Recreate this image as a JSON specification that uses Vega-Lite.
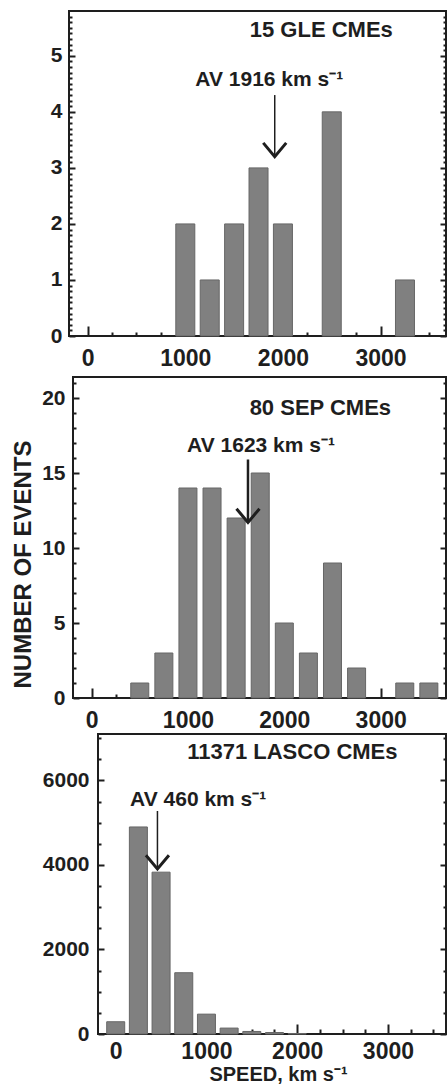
{
  "$schema": "https://vega.github.io/schema/vega-lite/v6.json",
  "background": "white",
  "padding": {"left": 0, "top": 10, "right": 0, "bottom": 0},
  "bounds": "full",
  "spacing": 0,
  "config": {
    "view": {"stroke": "#1e1e1e", "strokeWidth": 2},
    "axis": {"labelFont": "Liberation Sans", "labelFontWeight": "bold", "labelColor": "#1e1e1e", "tickColor": "#1e1e1e", "tickWidth": 2, "domain": false, "grid": false, "titleFont": "Liberation Sans", "titleFontWeight": "bold", "titleColor": "#1e1e1e", "labelOverlap": false, "labelFlush": false, "labelBound": false},
    "text": {"font": "Liberation Sans", "fontWeight": "bold", "color": "#1e1e1e"}
  },
  "vconcat": [
    {"spacing": 0, "hconcat": [
    {"width": 10, "height": 10, "view": {"stroke": null}, "data": {"values": []}, "mark": "point"},
    {
      "width": 377, "height": 325,
      "resolve": {"axis": {"x": "independent", "y": "independent"}},
      "layer": [
        {
          "data": {"values": [
            {"speed": 1000, "count": 2}, {"speed": 1250, "count": 1}, {"speed": 1500, "count": 2},
            {"speed": 1750, "count": 3}, {"speed": 2000, "count": 2}, {"speed": 2500, "count": 4},
            {"speed": 3250, "count": 1}
          ]},
          "mark": {"type": "bar", "size": 19, "fill": "#808080", "stroke": "#666666", "strokeWidth": 1},
          "encoding": {
            "x": {"field": "speed", "type": "quantitative", "scale": {"domain": [-140, 3619], "nice": false, "zero": false},
                  "axis": {"orient": "bottom", "values": [0, 1000, 2000, 3000], "format": "d", "title": null, "tickSize": -10, "labelPadding": 21, "labelFontSize": 23, "minExtent": 39, "maxExtent": 39}},
            "y": {"field": "count", "type": "quantitative", "scale": {"domain": [0, 5.8], "nice": false},
                  "axis": {"orient": "left", "values": [0, 1, 2, 3, 4, 5], "format": "d", "title": null, "tickSize": -6, "labelPadding": 13, "labelFontSize": 21, "minExtent": 58, "maxExtent": 58}}
          }
        },
        {
          "data": {"values": [{"label": "15 GLE CMEs"}]},
          "mark": {"type": "text", "fontSize": 22, "align": "center", "baseline": "alphabetic"},
          "encoding": {
            "text": {"field": "label"},
            "x": {"datum": 2393, "type": "quantitative", "scale": {"domain": [-140, 3619], "nice": false, "zero": false},
                  "axis": {"orient": "bottom", "values": [250, 500, 750, 1250, 1500, 1750, 2250, 2500, 2750, 3250, 3500], "labels": false, "title": null, "tickSize": -4, "minExtent": 0, "maxExtent": 0}},
            "y": {"datum": 5.34, "type": "quantitative", "scale": {"domain": [0, 5.8], "nice": false},
                  "axis": {"orient": "left", "values": [0.1,0.2,0.3,0.4,0.5,0.6,0.7,0.8,0.9,1.1,1.2,1.3,1.4,1.5,1.6,1.7,1.8,1.9,2.1,2.2,2.3,2.4,2.5,2.6,2.7,2.8,2.9,3.1,3.2,3.3,3.4,3.5,3.6,3.7,3.8,3.9,4.1,4.2,4.3,4.4,4.5,4.6,4.7,4.8,4.9,5.1,5.2,5.3,5.4,5.5,5.6,5.7], "labels": false, "title": null, "tickSize": -3, "minExtent": 0, "maxExtent": 0}}
          }
        },
        {
          "data": {"values": [{"label": "AV 1916 km s⁻¹"}]},
          "mark": {"type": "text", "fontSize": 21, "align": "center", "baseline": "alphabetic"},
          "encoding": {
            "text": {"field": "label"},
            "x": {"datum": 1860, "type": "quantitative", "scale": {"domain": [-140, 3619], "nice": false, "zero": false}, "axis": null},
            "y": {"datum": 4.46, "type": "quantitative", "scale": {"domain": [0, 5.8], "nice": false},
                  "axis": {"orient": "right", "values": [0, 1, 2, 3, 4, 5], "labels": false, "title": null, "tickSize": -6, "minExtent": 0, "maxExtent": 0}}
          }
        },
        {
          "data": {"values": [{"avg": 1916}]},
          "mark": {"type": "rule", "strokeWidth": 1.5, "color": "#1e1e1e"},
          "encoding": {
            "x": {"field": "avg", "type": "quantitative", "scale": {"domain": [-140, 3619], "nice": false, "zero": false}, "axis": null},
            "y": {"datum": 4.3, "type": "quantitative", "scale": {"domain": [0, 5.8], "nice": false},
                  "axis": {"orient": "right", "values": [0.1,0.2,0.3,0.4,0.5,0.6,0.7,0.8,0.9,1.1,1.2,1.3,1.4,1.5,1.6,1.7,1.8,1.9,2.1,2.2,2.3,2.4,2.5,2.6,2.7,2.8,2.9,3.1,3.2,3.3,3.4,3.5,3.6,3.7,3.8,3.9,4.1,4.2,4.3,4.4,4.5,4.6,4.7,4.8,4.9,5.1,5.2,5.3,5.4,5.5,5.6,5.7], "labels": false, "title": null, "tickSize": -3, "minExtent": 0, "maxExtent": 0}},
            "y2": {"datum": 3.2}
          }
        },
        {
          "data": {"values": [{"avg": 1916}]},
          "mark": {"type": "point", "shape": "M-1,-1.2L0,0L1,-1.2", "filled": false, "size": 529, "strokeWidth": 3, "color": "#1e1e1e", "opacity": 1},
          "encoding": {
            "x": {"field": "avg", "type": "quantitative", "scale": {"domain": [-140, 3619], "nice": false, "zero": false}, "axis": null},
            "y": {"datum": 3.2, "type": "quantitative", "scale": {"domain": [0, 5.8], "nice": false}, "axis": null}
          }
        }
      ]
    }]},
    {"spacing": 0, "hconcat": [
    {"width": 10, "height": 10, "view": {"stroke": null}, "data": {"values": []}, "mark": "point"},
    {
      "width": 373, "height": 321,
      "resolve": {"axis": {"x": "independent", "y": "independent"}},
      "layer": [
        {
          "data": {"values": [
            {"speed": 500, "count": 1}, {"speed": 750, "count": 3}, {"speed": 1000, "count": 14},
            {"speed": 1250, "count": 14}, {"speed": 1500, "count": 12}, {"speed": 1750, "count": 15},
            {"speed": 2000, "count": 5}, {"speed": 2250, "count": 3}, {"speed": 2500, "count": 9},
            {"speed": 2750, "count": 2}, {"speed": 3250, "count": 1}, {"speed": 3500, "count": 1}
          ]},
          "mark": {"type": "bar", "size": 18, "fill": "#808080", "stroke": "#666666", "strokeWidth": 1},
          "encoding": {
            "x": {"field": "speed", "type": "quantitative", "scale": {"domain": [-141, 3626], "nice": false, "zero": false},
                  "axis": {"orient": "bottom", "values": [0, 1000, 2000, 3000], "format": "d", "title": null, "tickSize": -10, "labelPadding": 21, "labelFontSize": 23, "minExtent": 33, "maxExtent": 33}},
            "y": {"field": "count", "type": "quantitative", "scale": {"domain": [0, 21.4], "nice": false},
                  "axis": {"orient": "left", "values": [0, 5, 10, 15, 20], "format": "d", "title": "NUMBER OF EVENTS", "titleFontSize": 24, "titlePadding": 8, "titleY": 187, "tickSize": -6, "labelPadding": 14, "labelFontSize": 21, "minExtent": 30, "maxExtent": 30}}
          }
        },
        {
          "data": {"values": [{"label": "80 SEP CMEs"}]},
          "mark": {"type": "text", "fontSize": 22, "align": "center", "baseline": "alphabetic"},
          "encoding": {
            "text": {"field": "label"},
            "x": {"datum": 2374, "type": "quantitative", "scale": {"domain": [-141, 3626], "nice": false, "zero": false},
                  "axis": {"orient": "bottom", "values": [250, 500, 750, 1250, 1500, 1750, 2250, 2500, 2750, 3250, 3500], "labels": false, "title": null, "tickSize": -4, "minExtent": 0, "maxExtent": 0}},
            "y": {"datum": 18.9, "type": "quantitative", "scale": {"domain": [0, 21.4], "nice": false},
                  "axis": {"orient": "left", "values": [1,2,3,4,6,7,8,9,11,12,13,14,16,17,18,19,21], "labels": false, "title": null, "tickSize": -3, "minExtent": 0, "maxExtent": 0}}
          }
        },
        {
          "data": {"values": [{"label": "AV 1623 km s⁻¹"}]},
          "mark": {"type": "text", "fontSize": 21, "align": "center", "baseline": "alphabetic"},
          "encoding": {
            "text": {"field": "label"},
            "x": {"datum": 1758, "type": "quantitative", "scale": {"domain": [-141, 3626], "nice": false, "zero": false}, "axis": null},
            "y": {"datum": 16.4, "type": "quantitative", "scale": {"domain": [0, 21.4], "nice": false},
                  "axis": {"orient": "right", "values": [0, 5, 10, 15, 20], "labels": false, "title": null, "tickSize": -6, "minExtent": 0, "maxExtent": 0}}
          }
        },
        {
          "data": {"values": [{"avg": 1623}]},
          "mark": {"type": "rule", "strokeWidth": 2.5, "color": "#1e1e1e"},
          "encoding": {
            "x": {"field": "avg", "type": "quantitative", "scale": {"domain": [-141, 3626], "nice": false, "zero": false}, "axis": null},
            "y": {"datum": 15.9, "type": "quantitative", "scale": {"domain": [0, 21.4], "nice": false},
                  "axis": {"orient": "right", "values": [1,2,3,4,6,7,8,9,11,12,13,14,16,17,18,19,21], "labels": false, "title": null, "tickSize": -3, "minExtent": 0, "maxExtent": 0}},
            "y2": {"datum": 11.7}
          }
        },
        {
          "data": {"values": [{"avg": 1623}]},
          "mark": {"type": "point", "shape": "M-1,-1.2L0,0L1,-1.2", "filled": false, "size": 529, "strokeWidth": 3, "color": "#1e1e1e", "opacity": 1},
          "encoding": {
            "x": {"field": "avg", "type": "quantitative", "scale": {"domain": [-141, 3626], "nice": false, "zero": false}, "axis": null},
            "y": {"datum": 11.7, "type": "quantitative", "scale": {"domain": [0, 21.4], "nice": false}, "axis": null}
          }
        }
      ]
    }]},
    {"spacing": 0, "hconcat": [
    {"width": 10, "height": 10, "view": {"stroke": null}, "data": {"values": []}, "mark": "point"},
    {
      "width": 348, "height": 300,
      "resolve": {"axis": {"x": "independent", "y": "independent"}},
      "layer": [
        {
          "data": {"values": [
            {"speed": 0, "count": 290}, {"speed": 250, "count": 4900}, {"speed": 500, "count": 3830},
            {"speed": 750, "count": 1450}, {"speed": 1000, "count": 470}, {"speed": 1250, "count": 140},
            {"speed": 1500, "count": 60}, {"speed": 1750, "count": 35}, {"speed": 2000, "count": 12}
          ]},
          "mark": {"type": "bar", "size": 18, "fill": "#808080", "stroke": "#666666", "strokeWidth": 1},
          "encoding": {
            "x": {"field": "speed", "type": "quantitative", "scale": {"domain": [-140, 3585], "nice": false, "zero": false},
                  "axis": {"orient": "bottom", "values": [0, 1000, 2000, 3000], "format": "d", "title": "SPEED, km s⁻¹", "titleFontSize": 20, "titlePadding": 4, "titleX": 180, "tickSize": -10, "labelPadding": 16, "labelFontSize": 23, "minExtent": 26, "maxExtent": 26}},
            "y": {"field": "count", "type": "quantitative", "scale": {"domain": [0, 7100], "nice": false},
                  "axis": {"orient": "left", "values": [0, 2000, 4000, 6000], "format": "d", "title": null, "tickSize": -6, "labelPadding": 15, "labelFontSize": 21, "minExtent": 87, "maxExtent": 87}}
          }
        },
        {
          "data": {"values": [{"label": "11371 LASCO CMEs"}]},
          "mark": {"type": "text", "fontSize": 22, "align": "center", "baseline": "alphabetic"},
          "encoding": {
            "text": {"field": "label"},
            "x": {"datum": 1947, "type": "quantitative", "scale": {"domain": [-140, 3585], "nice": false, "zero": false},
                  "axis": {"orient": "bottom", "values": [250, 500, 750, 1250, 1500, 1750, 2250, 2500, 2750, 3250, 3500], "labels": false, "title": null, "tickSize": -5, "minExtent": 0, "maxExtent": 0}},
            "y": {"datum": 6509, "type": "quantitative", "scale": {"domain": [0, 7100], "nice": false},
                  "axis": {"orient": "left", "values": [500,1000,1500,2500,3000,3500,4500,5000,5500,6500,7000], "labels": false, "title": null, "tickSize": -3, "minExtent": 0, "maxExtent": 0}}
          }
        },
        {
          "data": {"values": [{"label": "AV 460 km s⁻¹"}]},
          "mark": {"type": "text", "fontSize": 21, "align": "center", "baseline": "alphabetic"},
          "encoding": {
            "text": {"field": "label"},
            "x": {"datum": 909, "type": "quantitative", "scale": {"domain": [-140, 3585], "nice": false, "zero": false}, "axis": null},
            "y": {"datum": 5396, "type": "quantitative", "scale": {"domain": [0, 7100], "nice": false},
                  "axis": {"orient": "right", "values": [0, 2000, 4000, 6000], "labels": false, "title": null, "tickSize": -6, "minExtent": 0, "maxExtent": 0}}
          }
        },
        {
          "data": {"values": [{"avg": 460}]},
          "mark": {"type": "rule", "strokeWidth": 1.5, "color": "#1e1e1e"},
          "encoding": {
            "x": {"field": "avg", "type": "quantitative", "scale": {"domain": [-140, 3585], "nice": false, "zero": false}, "axis": null},
            "y": {"datum": 5278, "type": "quantitative", "scale": {"domain": [0, 7100], "nice": false},
                  "axis": {"orient": "right", "values": [500,1000,1500,2500,3000,3500,4500,5000,5500,6500,7000], "labels": false, "title": null, "tickSize": -3, "minExtent": 0, "maxExtent": 0}},
            "y2": {"datum": 3905}
          }
        },
        {
          "data": {"values": [{"avg": 460}]},
          "mark": {"type": "point", "shape": "M-1,-1.2L0,0L1,-1.2", "filled": false, "size": 529, "strokeWidth": 3, "color": "#1e1e1e", "opacity": 1},
          "encoding": {
            "x": {"field": "avg", "type": "quantitative", "scale": {"domain": [-140, 3585], "nice": false, "zero": false}, "axis": null},
            "y": {"datum": 3905, "type": "quantitative", "scale": {"domain": [0, 7100], "nice": false}, "axis": null}
          }
        }
      ]
    }]}
  ]
}
